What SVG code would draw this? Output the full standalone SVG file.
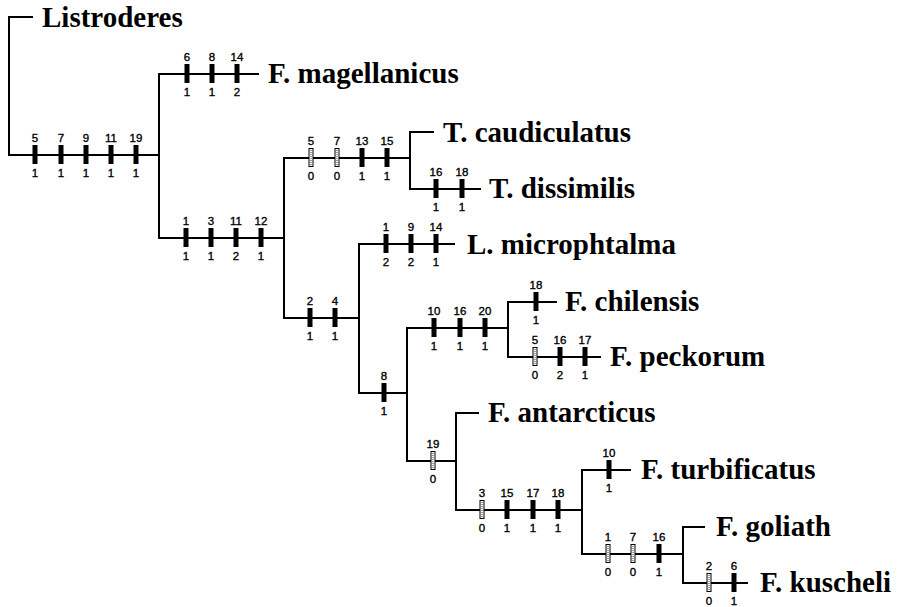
<svg xmlns="http://www.w3.org/2000/svg" xmlns:xlink="http://www.w3.org/1999/xlink" width="908" height="607" viewBox="0 0 908 607">
<style>
.br{fill:none;stroke:#000;stroke-width:2;stroke-linecap:square}
.tx{font-family:"Liberation Serif","Times New Roman",serif;font-weight:bold;font-size:29px;fill:#000}
.n{font-family:"Liberation Sans",Arial,sans-serif;font-size:11.5px;fill:#000;stroke:#000;stroke-width:0.35;text-anchor:middle}
</style>
<defs>
<g id="s"><rect x="-2.5" y="-10" width="5" height="19" fill="#000"/></g>
<g id="h"><rect x="-2" y="-9.5" width="4" height="18" fill="#fff" stroke="#000" stroke-width="1"/><line x1="0" y1="-8" x2="0" y2="7" stroke="#777" stroke-width="1.5" stroke-dasharray="1 1"/></g>
</defs>
<rect width="908" height="607" fill="#fff"/>
<g id="connectors">
<path class="br" d="M32 17H9V155H159"/>
<path class="br" d="M258 74H159V238H284"/>
<path class="br" d="M410 158H284V318H359"/>
<path class="br" d="M433 132H410V189H480"/>
<path class="br" d="M454 244H359V393H407"/>
<path class="br" d="M508 328H407V461H456"/>
<path class="br" d="M556 302H508V357H600"/>
<path class="br" d="M478 413H456V510H582"/>
<path class="br" d="M630 470H582V554H683"/>
<path class="br" d="M704 527H683V583H747"/>
</g>
<g id="marks">
<g id="m-root"><use href="#s" x="35" y="155"/><use href="#s" x="61" y="155"/><use href="#s" x="86" y="155"/><use href="#s" x="111" y="155"/><use href="#s" x="136" y="155"/>
<text class="n" x="35" y="142">5</text><text class="n" x="61" y="142">7</text><text class="n" x="86" y="142">9</text><text class="n" x="111" y="142">11</text><text class="n" x="136" y="142">19</text>
<text class="n" x="35" y="177">1</text><text class="n" x="61" y="177">1</text><text class="n" x="86" y="177">1</text><text class="n" x="111" y="177">1</text><text class="n" x="136" y="177">1</text></g>
<g id="m-mag"><use href="#s" x="187" y="74"/><use href="#s" x="212" y="74"/><use href="#s" x="237" y="74"/>
<text class="n" x="187" y="61">6</text><text class="n" x="212" y="61">8</text><text class="n" x="237" y="61">14</text>
<text class="n" x="187" y="96">1</text><text class="n" x="212" y="96">1</text><text class="n" x="237" y="96">2</text></g>
<g id="m-a"><use href="#s" x="186" y="238"/><use href="#s" x="211" y="238"/><use href="#s" x="236" y="238"/><use href="#s" x="261" y="238"/>
<text class="n" x="186" y="225">1</text><text class="n" x="211" y="225">3</text><text class="n" x="236" y="225">11</text><text class="n" x="261" y="225">12</text>
<text class="n" x="186" y="260">1</text><text class="n" x="211" y="260">1</text><text class="n" x="236" y="260">2</text><text class="n" x="261" y="260">1</text></g>
<g id="m-t"><use href="#h" x="311" y="158"/><use href="#h" x="337" y="158"/><use href="#s" x="362" y="158"/><use href="#s" x="387" y="158"/>
<text class="n" x="311" y="145">5</text><text class="n" x="337" y="145">7</text><text class="n" x="362" y="145">13</text><text class="n" x="387" y="145">15</text>
<text class="n" x="311" y="180">0</text><text class="n" x="337" y="180">0</text><text class="n" x="362" y="180">1</text><text class="n" x="387" y="180">1</text></g>
<g id="m-dis"><use href="#s" x="436" y="189"/><use href="#s" x="462" y="189"/>
<text class="n" x="436" y="176">16</text><text class="n" x="462" y="176">18</text>
<text class="n" x="436" y="211">1</text><text class="n" x="462" y="211">1</text></g>
<g id="m-b"><use href="#s" x="310" y="318"/><use href="#s" x="335" y="318"/>
<text class="n" x="310" y="305">2</text><text class="n" x="335" y="305">4</text>
<text class="n" x="310" y="340">1</text><text class="n" x="335" y="340">1</text></g>
<g id="m-mic"><use href="#s" x="386" y="244"/><use href="#s" x="411" y="244"/><use href="#s" x="436" y="244"/>
<text class="n" x="386" y="231">1</text><text class="n" x="411" y="231">9</text><text class="n" x="436" y="231">14</text>
<text class="n" x="386" y="266">2</text><text class="n" x="411" y="266">2</text><text class="n" x="436" y="266">1</text></g>
<g id="m-c"><use href="#s" x="384" y="393"/>
<text class="n" x="384" y="380">8</text><text class="n" x="384" y="415">1</text></g>
<g id="m-d"><use href="#s" x="434" y="328"/><use href="#s" x="460" y="328"/><use href="#s" x="485" y="328"/>
<text class="n" x="434" y="315">10</text><text class="n" x="460" y="315">16</text><text class="n" x="485" y="315">20</text>
<text class="n" x="434" y="350">1</text><text class="n" x="460" y="350">1</text><text class="n" x="485" y="350">1</text></g>
<g id="m-chi"><use href="#s" x="536" y="302"/>
<text class="n" x="536" y="289">18</text><text class="n" x="536" y="324">1</text></g>
<g id="m-pec"><use href="#h" x="535" y="357"/><use href="#s" x="560" y="357"/><use href="#s" x="585" y="357"/>
<text class="n" x="535" y="344">5</text><text class="n" x="560" y="344">16</text><text class="n" x="585" y="344">17</text>
<text class="n" x="535" y="379">0</text><text class="n" x="560" y="379">2</text><text class="n" x="585" y="379">1</text></g>
<g id="m-e"><use href="#h" x="433" y="461"/>
<text class="n" x="433" y="448">19</text><text class="n" x="433" y="483">0</text></g>
<g id="m-f"><use href="#h" x="482" y="510"/><use href="#s" x="507" y="510"/><use href="#s" x="533" y="510"/><use href="#s" x="558" y="510"/>
<text class="n" x="482" y="497">3</text><text class="n" x="507" y="497">15</text><text class="n" x="533" y="497">17</text><text class="n" x="558" y="497">18</text>
<text class="n" x="482" y="532">0</text><text class="n" x="507" y="532">1</text><text class="n" x="533" y="532">1</text><text class="n" x="558" y="532">1</text></g>
<g id="m-tur"><use href="#s" x="609" y="470"/>
<text class="n" x="609" y="457">10</text><text class="n" x="609" y="492">1</text></g>
<g id="m-g"><use href="#h" x="608" y="554"/><use href="#h" x="633" y="554"/><use href="#s" x="659" y="554"/>
<text class="n" x="608" y="541">1</text><text class="n" x="633" y="541">7</text><text class="n" x="659" y="541">16</text>
<text class="n" x="608" y="576">0</text><text class="n" x="633" y="576">0</text><text class="n" x="659" y="576">1</text></g>
<g id="m-kus"><use href="#h" x="709" y="583"/><use href="#s" x="734" y="583"/>
<text class="n" x="709" y="570">2</text><text class="n" x="734" y="570">6</text>
<text class="n" x="709" y="605">0</text><text class="n" x="734" y="605">1</text></g>
</g>
<g id="listroderes"><text class="tx" x="42" y="27">Listroderes</text></g>
<g id="f-magellanicus"><text class="tx" x="268" y="83">F. magellanicus</text></g>
<g id="t-caudiculatus"><text class="tx" x="443" y="142">T. caudiculatus</text></g>
<g id="t-dissimilis"><text class="tx" x="489" y="198">T. dissimilis</text></g>
<g id="l-microphtalma"><text class="tx" x="467" y="254">L. microphtalma</text></g>
<g id="f-chilensis"><text class="tx" x="565" y="311">F. chilensis</text></g>
<g id="f-peckorum"><text class="tx" x="610" y="366">F. peckorum</text></g>
<g id="f-antarcticus"><text class="tx" x="488" y="422">F. antarcticus</text></g>
<g id="f-turbificatus"><text class="tx" x="641" y="479">F. turbificatus</text></g>
<g id="f-goliath"><text class="tx" x="716" y="536">F. goliath</text></g>
<g id="f-kuscheli"><text class="tx" x="760" y="592">F. kuscheli</text></g>
</svg>
